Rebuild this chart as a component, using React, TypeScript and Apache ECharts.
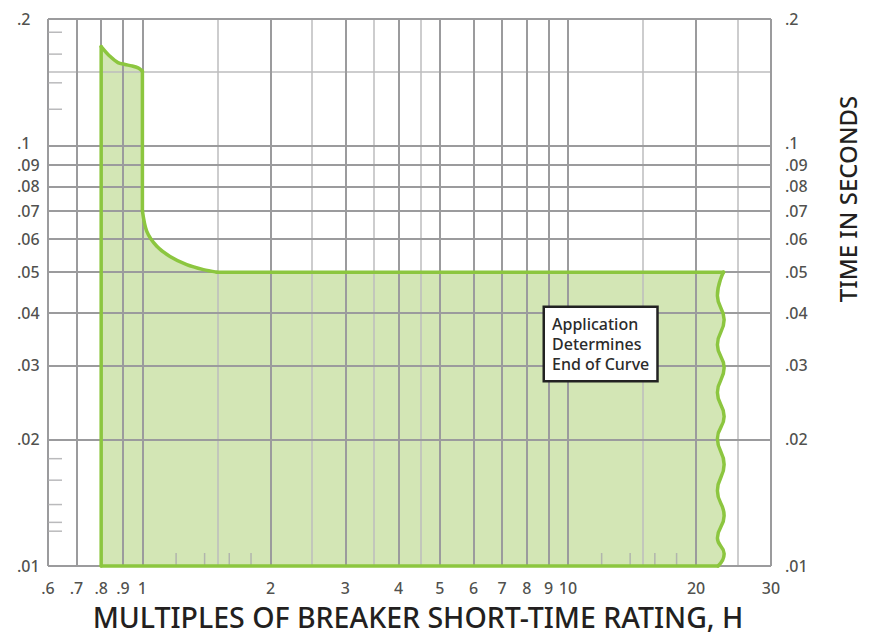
import React, { useEffect, useRef } from 'react';
import * as echarts from 'echarts';

// ---- grid / axis data ----
const xMajorLines = [0.6, 0.7, 0.8, 0.9, 1, 2, 3, 4, 5, 6, 7, 8, 9, 10, 20, 30];
const xMinorLines = [1.5, 2.5, 3.5, 4.5, 15, 25];
const yMajorLines = [0.01, 0.02, 0.03, 0.04, 0.05, 0.06, 0.07, 0.08, 0.09, 0.1, 0.2];
const yMinorLines = [0.015, 0.025, 0.035, 0.045, 0.15];

const xTickValues = [0.6, 0.7, 0.8, 0.9, 1, 2, 3, 4, 5, 6, 7, 8, 9, 10, 20, 30];
const xTickLabels = ['.6', '.7', '.8', '.9', '1', '2', '3', '4', '5', '6', '7', '8', '9', '10', '20', '30'];
const yTickValues = [0.2, 0.1, 0.09, 0.08, 0.07, 0.06, 0.05, 0.04, 0.03, 0.02, 0.01];
const yTickLabels = ['.2', '.1', '.09', '.08', '.07', '.06', '.05', '.04', '.03', '.02', '.01'];

const xShortTicks = [1.2, 1.4, 1.6, 1.8, 12, 14, 16, 18];
const yShortTicks = [0.186, 0.165, 0.141, 0.122, 0.018, 0.016, 0.014, 0.0127, 0.0121];

// ---- curve data (multiples of rating, seconds) ----
const startPoint = [0.8, 0.01];
const shoulder = [
  [0.8, 0.172], [0.839, 0.163], [0.876, 0.1575], [0.91, 0.1559],
  [0.944, 0.1547], [0.977, 0.153], [1.0, 0.1504],
];
const knee = [
  [1.0, 0.07], [1.024, 0.0625], [1.081, 0.0576], [1.161, 0.0545],
  [1.271, 0.0521], [1.391, 0.0507], [1.495, 0.05],
];
const wave = [
  [23.2, 0.05], [22.45, 0.0439], [23.28, 0.0385], [22.45, 0.0336],
  [23.28, 0.0296], [22.45, 0.02585], [23.28, 0.02268], [22.45, 0.0201],
  [23.28, 0.01743], [22.45, 0.0151], [23.28, 0.01317], [22.45, 0.01165],
  [23.28, 0.0107], [22.53, 0.01],
];

const xTitle = 'MULTIPLES OF BREAKER SHORT-TIME RATING, H';
const yTitle = 'TIME IN SECONDS';
const noteText = 'Application\nDetermines\nEnd of Curve';

const FONT = '"Noto Sans", "Open Sans", sans-serif';
const TEXT = '#231f20';
const GREEN = '#8cc63f';
const FILL = '#d3e6b5';

export default function App() {
  const ref = useRef<HTMLDivElement>(null);
  useEffect(() => {
    const chart = echarts.init(ref.current!, null, { renderer: 'svg' });
    const major = { color: '#9b9b9d', width: 2, type: 'solid' };
    const minor = { color: '#bcbcbe', width: 1.5, type: 'solid' };
    const lineItems = [
      ...xMinorLines.map((v) => ({ xAxis: v, lineStyle: minor })),
      ...yMinorLines.map((v) => ({ yAxis: v, lineStyle: minor })),
      ...xMajorLines.map((v) => ({ xAxis: v, lineStyle: major })),
      ...yMajorLines.map((v) => ({ yAxis: v, lineStyle: major })),
    ];
    const labelBase = { show: true, fontSize: 16, lineHeight: 16, color: TEXT, fontFamily: FONT, fontWeight: 500 };
    // the ".1" label sits a little above its line in the reference
    const yLabelShift = (v: number) => (v === 0.1 ? -3 : 0);

    const option: any = {
      animation: false,
      textStyle: { fontFamily: FONT },
      grid: { left: 48, right: 107, top: 19, bottom: 71, containLabel: false },
      xAxis: {
        type: 'log', logBase: 10, min: 0.6, max: 30,
        axisLine: { show: false }, axisTick: { show: false },
        axisLabel: { show: false }, splitLine: { show: false },
      },
      yAxis: {
        type: 'log', logBase: 10, min: 0.01, max: 0.2,
        axisLine: { show: false }, axisTick: { show: false },
        axisLabel: { show: false }, splitLine: { show: false },
      },
      series: [
        {
          // shaded region
          type: 'custom', coordinateSystem: 'cartesian2d', z: 1, silent: true,
          data: [[1, 0.05]],
          renderItem: (params: any, api: any) => {
            const pts = [startPoint, ...shoulder, ...knee, ...wave].map((p) => api.coord(p));
            return { type: 'polygon', shape: { points: pts }, style: { fill: FILL } };
          },
        },
        {
          // left labels + grid lines
          type: 'scatter', z: 5, silent: true, symbolSize: 0,
          data: yTickValues.map((v) => ({ value: [0.6, v], label: { position: [-31, yLabelShift(v)] } })),
          label: {
            ...labelBase, position: [-31, 0], align: 'left', verticalAlign: 'middle',
            formatter: (p: any) => yTickLabels[p.dataIndex],
          },
          markLine: {
            silent: true, symbol: ['none', 'none'], label: { show: false },
            emphasis: { disabled: true }, animation: false,
            data: lineItems,
          },
        },
        {
          // right labels
          type: 'scatter', z: 5, silent: true, symbolSize: 0,
          data: yTickValues.map((v) => ({ value: [30, v], label: { position: [14, yLabelShift(v)] } })),
          label: {
            ...labelBase, position: [14, 0], align: 'left', verticalAlign: 'middle',
            formatter: (p: any) => yTickLabels[p.dataIndex],
          },
        },
        {
          // bottom labels
          type: 'scatter', z: 5, silent: true, symbolSize: 0,
          data: xTickValues.map((v) => [v, 0.01]),
          label: {
            ...labelBase, position: [0, 22], align: 'center', verticalAlign: 'middle',
            formatter: (p: any) => xTickLabels[p.dataIndex],
          },
        },
        {
          // short ticks on left edge
          type: 'scatter', z: 5, silent: true, symbol: 'rect',
          symbolSize: [14, 1.5], symbolOffset: [7, 0],
          itemStyle: { color: '#a9a9ab' },
          data: yShortTicks.map((v) => [0.6, v]),
        },
        {
          // short ticks on bottom edge
          type: 'scatter', z: 5, silent: true, symbol: 'rect',
          symbolSize: [1.5, 13], symbolOffset: [0, -6.5],
          itemStyle: { color: '#a9a9ab' },
          data: xShortTicks.map((v) => [v, 0.01]),
        },
        {
          // outline
          type: 'custom', coordinateSystem: 'cartesian2d', z: 6, silent: true,
          data: [[1, 0.05]],
          renderItem: (params: any, api: any) => {
            const c = (arr: number[][]) => arr.map((p) => api.coord(p));
            const stroke = { stroke: GREEN, lineWidth: 3.5, fill: null, lineJoin: 'round', lineCap: 'round' };
            const pieces = [
              { pts: c([startPoint, shoulder[0]]), smooth: 0 },
              { pts: c(shoulder), smooth: 0.3 },
              { pts: c([shoulder[shoulder.length - 1], knee[0]]), smooth: 0 },
              { pts: c(knee), smooth: 0.3 },
              { pts: c([knee[knee.length - 1], wave[0]]), smooth: 0 },
              { pts: c(wave), smooth: 0.5 },
              { pts: c([wave[wave.length - 1], startPoint]), smooth: 0 },
            ];
            return {
              type: 'group',
              children: pieces.map((pc) => ({
                type: 'polyline',
                shape: { points: pc.pts, smooth: pc.smooth },
                style: stroke,
              })),
            };
          },
        },
      ],
      graphic: [
        {
          type: 'text', x: 545, y: 308, z: 100,
          style: {
            text: noteText, font: `500 16px ${FONT}`, fill: '#2b2b2b',
            backgroundColor: '#ffffff', borderColor: '#222222', borderWidth: 2.5,
            padding: [6, 7, 6, 7], lineHeight: 20, textAlign: 'left', textVerticalAlign: 'top',
          },
        },
        {
          type: 'text', x: 418, y: 617, z: 100,
          style: {
            text: xTitle, font: `500 28.5px ${FONT}`, fill: TEXT,
            textAlign: 'center', textVerticalAlign: 'middle',
          },
        },
        {
          type: 'text', x: 847, y: 199, rotation: Math.PI / 2, z: 100,
          style: {
            text: yTitle, font: `500 24px ${FONT}`, fill: TEXT,
            textAlign: 'center', textVerticalAlign: 'middle',
          },
        },
      ],
    };
    chart.setOption(option);
    return () => chart.dispose();
  }, []);
  return (
    <div
      ref={ref}
      style={{ position: 'absolute', left: 0, top: 0, width: 878, height: 637, background: '#ffffff' }}
    />
  );
}
